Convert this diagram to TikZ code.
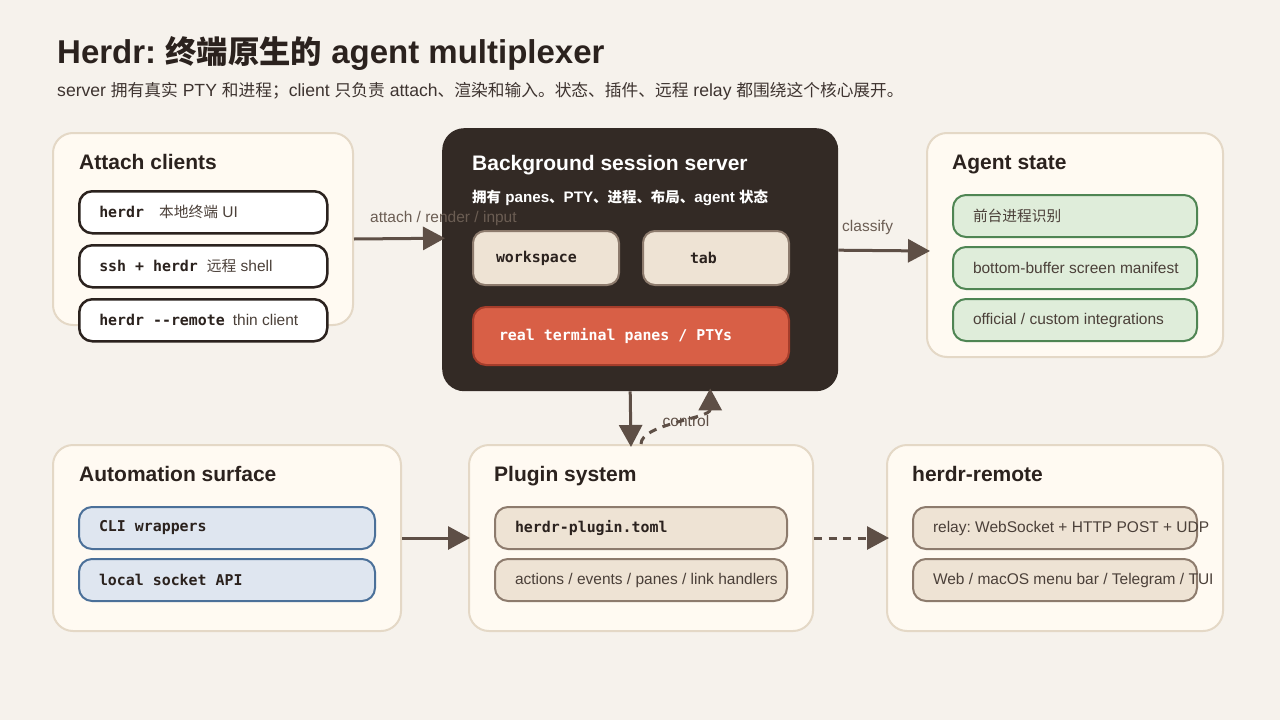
\documentclass[tikz,border=0pt]{standalone}
\usepackage{fontspec}
\setmainfont{Liberation Sans}
\setmonofont{DejaVu Sans Mono}
\newfontfamily\cjk{Noto Sans CJK SC}[Scale=0.95]
\usetikzlibrary{arrows.meta}
\frenchspacing
\newcommand{\zh}[1]{{\cjk #1}}
\newcommand{\mono}[1]{{\ttfamily\bfseries\fontsize{14.9}{17}\selectfont #1}}
\newcommand{\mcode}[1]{{\color{ink}\mono{#1}}}
\newcommand{\ptext}[1]{\mbox{\frenchspacing\spaceskip=0pt\xspaceskip=0pt #1}}
\definecolor{bg}{HTML}{F6F2EC}
\definecolor{cardfill}{HTML}{FFFAF2}
\definecolor{cardline}{HTML}{E4D8C6}
\definecolor{ink}{HTML}{2B221E}
\definecolor{subc}{HTML}{3E3430}
\definecolor{bodyc}{HTML}{4B4039}
\definecolor{serverc}{HTML}{332A25}
\definecolor{arrowc}{HTML}{5E4F46}
\definecolor{lblc}{HTML}{6B5D53}
\definecolor{tanfill}{HTML}{EEE3D4}
\definecolor{tanline}{HTML}{8D7B6D}
\definecolor{redfill}{HTML}{D85F46}
\definecolor{redline}{HTML}{A53D2B}
\definecolor{grnfill}{HTML}{DFEDDA}
\definecolor{grnline}{HTML}{4F8553}
\definecolor{blufill}{HTML}{DFE6F0}
\definecolor{bluline}{HTML}{4B7099}
\begin{document}
\begin{tikzpicture}[x=1pt,y=-1pt,
  card/.style={draw=cardline, line width=2pt, fill=cardfill, rounded corners=20pt, anchor=north west, inner sep=0},
  cardtitle/.style={anchor=base west, inner sep=0, font=\bfseries\fontsize{21}{25}\selectfont, text=ink},
  pill/.style={anchor=north west, rounded corners=13pt, minimum height=42pt, inner ysep=0, inner xsep=20pt, align=left, line width=2pt, font=\fontsize{15.5}{18}\selectfont, text=bodyc},
  wpill/.style={pill, draw=ink, fill=white, line width=2.5pt, text width=208pt},
  gpill/.style={pill, draw=grnline, fill=grnfill, text width=204pt},
  bpill/.style={pill, draw=bluline, fill=blufill, text width=256pt},
  tpill/.style={pill, draw=tanline, fill=tanfill},
  arrow/.style={draw=arrowc, line width=3pt, -{Triangle[length=22pt,width=23pt]}},
  dashline/.style={dash pattern=on 8pt off 6.5pt},
  lbl/.style={anchor=base west, inner sep=0, font=\fontsize{15.5}{18}\selectfont, text=lblc}
]
\fill[bg] (0,0) rectangle (1280,720);
\useasboundingbox (0,0) rectangle (1280,720);

% title
\node[anchor=base west, inner sep=0, font=\bfseries\fontsize{33}{38}\selectfont, text=ink] (title) at (57,63.5) {Herdr: \zh{终端原生的} agent multiplexer};
\node[anchor=base west, inner sep=0, font=\fontsize{17.6}{20}\selectfont, text=subc] (subtitle) at (57,96) {server \zh{拥有真实} PTY \zh{和进程；}client \zh{只负责} attach\zh{、渲染和输入。状态、插件、远程} relay \zh{都围绕这个核心展开。}};

% attach clients
\node[card, minimum width=300pt, minimum height=192pt] (attach) at (52,132) {};
\node[cardtitle] (attachT) at (79,169) {Attach clients};
\node[wpill] (a1) at (78,190) {\ptext{\mcode{herdr}\hspace{15pt}\zh{本地终端} UI}};
\node[wpill] (a2) at (78,244) {\ptext{\mcode{ssh + herdr}\hspace{9pt}\zh{远程} shell}};
\node[wpill] (a3) at (78,298) {\ptext{\mcode{herdr --remote}\hspace{8pt}thin client}};

% server
\node[anchor=north west, fill=serverc, rounded corners=22pt, minimum width=396pt, minimum height=263pt, inner sep=0] (server) at (442,128) {};
\node[anchor=base west, inner sep=0, font=\bfseries\fontsize{21}{25}\selectfont, text=white] (serverT) at (472,170) {Background session server};
\node[anchor=base west, inner sep=0, font=\bfseries\fontsize{15.2}{18}\selectfont, text=white] (serverS) at (472,202) {\zh{拥有} panes\zh{、}PTY\zh{、进程、布局、}agent \zh{状态}};
\node[tpill, minimum height=54pt, inner xsep=23pt, text width=100pt, rounded corners=12pt] (ws) at (472,230) {\ptext{\mcode{workspace}}};
\node[tpill, minimum height=54pt, inner xsep=47pt, text width=52pt, rounded corners=12pt] (tab) at (642,230) {\ptext{\mcode{tab}}};
\node[pill, draw=redline, fill=redfill, minimum height=58pt, inner xsep=26pt, text width=264pt, rounded corners=13pt, text=white] (ptys) at (472,306) {\ptext{\mono{real terminal panes / PTYs}}};

% agent state
\node[card, minimum width=296pt, minimum height=224pt] (agent) at (926,132) {};
\node[cardtitle] (agentT) at (952,169) {Agent state};
\node[gpill] (g1) at (952,194) {\ptext{\zh{前台进程识别}}};
\node[gpill] (g2) at (952,246) {\ptext{bottom-buffer screen manifest}};
\node[gpill] (g3) at (952,298) {\ptext{official / custom integrations}};

% automation
\node[card, minimum width=348pt, minimum height=186pt] (auto) at (52,444) {};
\node[cardtitle] (autoT) at (79,481.5) {Automation surface};
\node[bpill] (b1) at (78,506) {\ptext{\mcode{CLI wrappers}}};
\node[bpill] (b2) at (78,558) {\ptext{\mcode{local socket API}}};

% plugin
\node[card, minimum width=344pt, minimum height=186pt] (plugin) at (468,444) {};
\node[cardtitle] (pluginT) at (494,481.5) {Plugin system};
\node[tpill, text width=252pt] (p1) at (494,506) {\ptext{\mcode{herdr-plugin.toml}}};
\node[tpill, text width=252pt] (p2) at (494,558) {\ptext{actions / events / panes / link handlers}};

% remote
\node[card, minimum width=336pt, minimum height=186pt] (remote) at (886,444) {};
\node[cardtitle] (remoteT) at (912,481.5) {herdr-remote};
\node[tpill, text width=244pt] (r1) at (912,506) {\ptext{relay: WebSocket + HTTP POST + UDP}};
\node[tpill, text width=244pt] (r2) at (912,558) {\ptext{Web / macOS menu bar / Telegram / TUI}};

% connectors
\draw[arrow] ([yshift=-10pt]attach.east) -- ([yshift=21.5pt,xshift=3pt]server.west);
\node[lbl] (attachL) at (370,222) {attach / render / input};
\draw[arrow] ([yshift=9.5pt]server.east) -- ([yshift=-6pt,xshift=4pt]agent.west);
\node[lbl] (classL) at (842,231.5) {classify};
\draw[arrow] ([xshift=-10pt]server.south) -- ([xshift=-10pt,yshift=-3pt]plugin.north);
\draw[arrow, dashline] (plugin.north) .. controls +(0,-20) and +(0,30) .. ([xshift=70pt,yshift=3pt]server.south);
\node[anchor=center, inner sep=0, font=\fontsize{15.5}{18}\selectfont, text=arrowc] (ctrlL) at (686,421) {control};
\draw[arrow] (auto.east) -- ([xshift=2pt]plugin.west);
\draw[arrow, dashline] (plugin.east) -- ([xshift=3pt]remote.west);
\end{tikzpicture}
\end{document}
